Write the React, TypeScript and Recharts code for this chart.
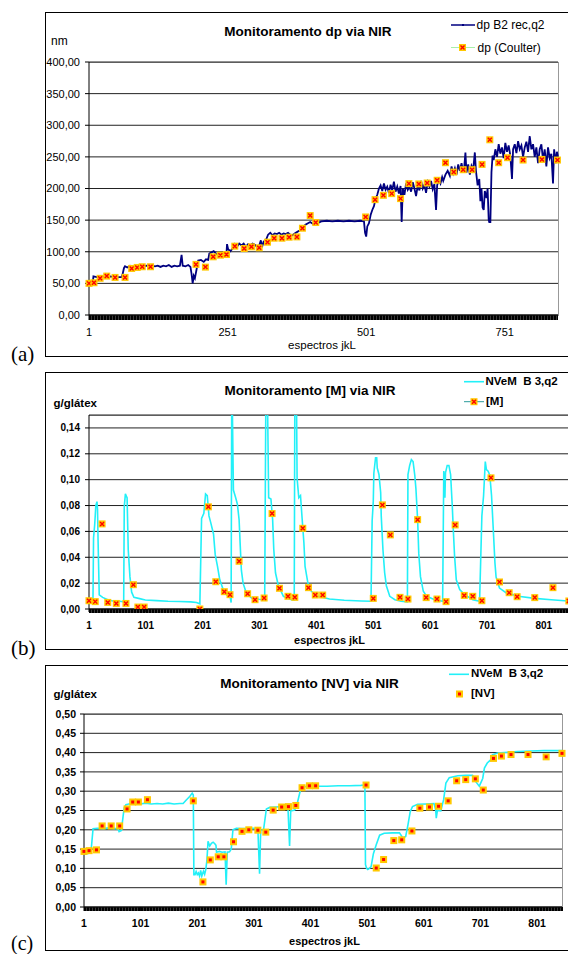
import React from 'react';
import { ComposedChart, Line, Scatter, XAxis, YAxis, CartesianGrid } from 'recharts';

const FONT = '"Liberation Sans", Arial, sans-serif';

type Pt = [number, number];

// (a) dp via NIR — [spectrum, nm]
const dpNir: Pt[] = [
  [1, 52], [5, 52], [8, 53], [9, 61], [15, 60], [20, 58], [25, 61], [30, 60], [35, 59], [40, 61], [45, 60], [50, 59],
  [55, 60], [60, 60], [62, 66], [64, 74], [66, 77], [70, 75], [75, 78], [80, 77], [85, 78], [90, 76], [95, 78], [100, 77],
  [105, 78], [110, 77], [115, 78], [120, 77], [125, 78], [130, 76], [135, 78], [140, 77], [145, 79], [150, 76], [155, 78],
  [160, 77], [165, 78], [168, 95], [170, 78], [175, 77], [180, 79], [184, 76], [186, 65], [188, 50], [190, 62], [192, 58],
  [195, 72], [198, 86], [203, 87], [208, 84], [212, 88], [216, 87], [218, 97], [222, 99], [226, 101], [230, 97], [234, 95],
  [238, 96], [242, 94], [246, 96], [249, 98], [250, 112], [252, 104], [256, 101], [260, 105], [264, 112], [268, 108],
  [272, 113], [276, 110], [280, 113], [284, 108], [288, 112], [292, 110], [296, 113], [300, 111], [304, 108], [308, 110],
  [311, 118], [313, 107], [316, 116], [320, 118], [324, 127], [328, 130], [332, 126], [336, 129], [340, 128], [344, 130],
  [348, 127], [352, 129], [356, 128], [360, 130], [364, 127], [368, 126], [372, 129], [376, 131], [380, 133], [384, 136],
  [388, 140], [392, 143], [396, 145], [400, 147], [405, 144], [410, 148], [415, 146], [420, 148], [430, 149], [440, 148],
  [450, 149], [460, 148], [470, 149], [480, 148], [490, 149], [497, 148], [499, 130], [501, 124], [503, 140], [506, 145],
  [509, 158], [512, 166], [515, 172], [518, 184], [521, 190], [524, 200], [527, 205], [530, 196], [533, 208], [536, 198],
  [539, 203], [542, 193], [545, 206], [548, 197], [551, 211], [554, 195], [557, 203], [560, 192], [563, 204], [565, 147],
  [567, 200], [570, 190], [573, 208], [576, 198], [579, 203], [582, 195], [585, 210], [588, 200], [591, 188], [594, 205],
  [597, 197], [600, 212], [603, 200], [606, 206], [609, 193], [612, 210], [615, 203], [618, 212], [621, 199], [624, 207],
  [627, 166], [629, 205], [632, 214], [635, 208], [638, 218], [640, 212], [644, 222], [648, 228], [652, 220], [655, 235],
  [658, 224], [661, 232], [664, 222], [667, 238], [670, 228], [673, 240], [676, 226], [678, 235], [680, 257], [682, 225],
  [685, 238], [688, 222], [691, 236], [694, 230], [697, 257], [699, 228], [702, 205], [705, 215], [707, 180], [709, 200],
  [711, 170], [713, 166], [715, 196], [718, 185], [720, 200], [722, 150], [723, 147], [725, 147], [727, 226], [729, 252],
  [731, 245], [734, 262], [737, 250], [740, 270], [743, 255], [746, 265], [749, 248], [752, 272], [755, 258], [758, 268],
  [761, 252], [764, 215], [766, 262], [769, 270], [772, 256], [775, 275], [778, 262], [781, 268], [784, 250], [787, 265],
  [790, 274], [793, 258], [796, 283], [799, 262], [802, 270], [805, 250], [808, 265], [811, 240], [814, 262], [817, 270],
  [820, 245], [823, 262], [826, 235], [829, 265], [832, 248], [835, 255], [838, 208], [840, 262], [843, 240], [845, 258],
  [847, 250],
];

const dpCoulter: Pt[] = [
  [1, 50], [10, 51], [21, 58], [33, 61.5], [48, 59.4], [66, 59.4], [78, 73.6], [88, 75.2], [97, 76.3], [112, 76.3],
  [194, 80], [211, 75.7], [225, 92], [238, 94.6], [249, 95.6], [264, 108.8], [281, 105.1], [294, 107.8], [308, 106.2],
  [323, 115.1], [335, 121.4], [349, 121.4], [362, 123], [376, 123.5], [386, 137.2], [400, 157.2], [410, 146.2],
  [500, 155], [517, 182.4], [532, 189.2], [547, 191.9], [563, 184], [578, 207.7], [596, 207.2], [611, 208.7], [629, 213],
  [644, 240.8], [659, 226], [676, 229.7], [692, 229.7], [710, 238.1], [724, 277], [740, 240.8], [756, 248.7], [784, 245],
  [818, 246], [846, 245],
];

// (b) [M] via NIR — [spectrum, g/glátex]
const mNir: Pt[] = [
  [1, 0.006], [5, 0.006], [8, 0.007], [9, 0.055], [11, 0.065], [13, 0.08], [15, 0.083], [16, 0.077], [17, 0.052],
  [19, 0.011], [25, 0.009], [35, 0.007], [45, 0.006], [55, 0.006], [62, 0.0055], [63, 0.079], [65, 0.089], [67, 0.087],
  [68, 0.086], [70, 0.046], [73, 0.025], [76, 0.013], [80, 0.009], [90, 0.008], [100, 0.007], [120, 0.0065], [140, 0.006],
  [160, 0.0058], [180, 0.0055], [190, 0.005], [196, 0.004], [199, 0.07], [203, 0.074], [206, 0.089], [209, 0.0877],
  [212, 0.072], [215, 0.067], [220, 0.058], [223, 0.042], [227, 0.033], [231, 0.0226], [237, 0.015], [243, 0.011],
  [249, 0.0098], [251, 0.005], [252, 0.16], [253, 0.16], [255, 0.092], [259, 0.086], [262, 0.081], [265, 0.069],
  [267, 0.049], [269, 0.03], [272, 0.02], [278, 0.012], [287, 0.0085], [300, 0.0075], [310, 0.007], [312, 0.16],
  [315, 0.16], [317, 0.086], [321, 0.085], [324, 0.069], [326, 0.046], [329, 0.028], [334, 0.018], [343, 0.0098],
  [357, 0.0072], [362, 0.007], [363, 0.16], [366, 0.16], [367, 0.101], [370, 0.086], [373, 0.0877], [376, 0.069],
  [379, 0.051], [381, 0.033], [386, 0.02], [392, 0.0137], [404, 0.0098], [424, 0.0077], [450, 0.0068], [480, 0.0062],
  [497, 0.006], [499, 0.068], [501, 0.083], [502, 0.105], [505, 0.117], [507, 0.117], [508, 0.109], [511, 0.104],
  [514, 0.09], [515, 0.072], [518, 0.046], [521, 0.028], [524, 0.018], [530, 0.0098], [539, 0.0072], [550, 0.006],
  [561, 0.0055], [562, 0.104], [565, 0.111], [568, 0.1155], [571, 0.114], [574, 0.1034], [576, 0.093], [579, 0.069],
  [581, 0.043], [584, 0.025], [589, 0.0137], [595, 0.0098], [609, 0.0072], [623, 0.006], [625, 0.1066], [627, 0.086],
  [628, 0.1053], [631, 0.111], [634, 0.111], [637, 0.104], [640, 0.079], [642, 0.059], [644, 0.041], [647, 0.0226],
  [653, 0.015], [662, 0.011], [676, 0.0072], [688, 0.006], [692, 0.072], [695, 0.0877], [698, 0.114], [700, 0.1077],
  [703, 0.1066], [706, 0.1034], [709, 0.0877], [712, 0.062], [715, 0.0356], [717, 0.0247], [723, 0.0162], [735, 0.0124],
  [756, 0.0098], [785, 0.0082], [814, 0.0072], [843, 0.0062], [847, 0.006],
];

const mLab: Pt[] = [
  [1, 0.0064], [12, 0.0057], [24, 0.0658], [34, 0.0051], [49, 0.0043], [66, 0.0043], [79, 0.0188], [87, 0.0015],
  [98, 0.0015], [196, 0.0], [211, 0.079], [224, 0.0211], [239, 0.0134], [249, 0.0111], [265, 0.0369], [280, 0.0118],
  [293, 0.0072], [309, 0.0085], [323, 0.0738], [336, 0.016], [351, 0.0098], [363, 0.009], [377, 0.0624], [387, 0.0165],
  [399, 0.0108], [412, 0.0108], [501, 0.0082], [517, 0.0805], [531, 0.0573], [548, 0.009], [562, 0.0077], [579, 0.0691],
  [594, 0.0088], [613, 0.0077], [629, 0.0057], [645, 0.065], [661, 0.0105], [676, 0.0098], [692, 0.0064], [708, 0.1014],
  [723, 0.0209], [740, 0.0126], [754, 0.0095], [785, 0.0088], [817, 0.0165], [845, 0.0062],
];

// (c) [NV] via NIR — [spectrum, g/glátex]
const nvNir: Pt[] = [
  [1, 0.137], [5, 0.138], [10, 0.139], [12, 0.146], [13, 0.138], [15, 0.17], [17, 0.203], [25, 0.204], [35, 0.203],
  [45, 0.205], [55, 0.203], [61, 0.203], [63, 0.195], [67, 0.198], [70, 0.235], [72, 0.257], [75, 0.265], [80, 0.267],
  [90, 0.268], [100, 0.267], [110, 0.269], [120, 0.267], [130, 0.268], [140, 0.267], [150, 0.269], [160, 0.267],
  [170, 0.268], [176, 0.268], [182, 0.278], [188, 0.287], [192, 0.295], [194, 0.29], [195, 0.084], [197, 0.084],
  [199, 0.092], [201, 0.084], [203, 0.088], [205, 0.08], [207, 0.095], [209, 0.08], [212, 0.093], [214, 0.085],
  [216, 0.097], [218, 0.12], [220, 0.17], [223, 0.158], [226, 0.165], [229, 0.168], [232, 0.164], [234, 0.16],
  [235, 0.142], [240, 0.144], [245, 0.142], [250, 0.143], [252, 0.058], [254, 0.142], [258, 0.143], [261, 0.15],
  [264, 0.2], [270, 0.204], [280, 0.203], [290, 0.203], [300, 0.204], [308, 0.202], [311, 0.086], [313, 0.199],
  [318, 0.2], [323, 0.254], [329, 0.258], [340, 0.259], [350, 0.26], [361, 0.261], [364, 0.158], [366, 0.249],
  [373, 0.251], [377, 0.265], [382, 0.296], [385, 0.311], [395, 0.312], [410, 0.313], [430, 0.313], [450, 0.314],
  [470, 0.314], [490, 0.315], [497, 0.316], [498, 0.11], [500, 0.1], [502, 0.097], [505, 0.1], [508, 0.105],
  [512, 0.138], [517, 0.161], [523, 0.186], [531, 0.191], [545, 0.192], [558, 0.192], [564, 0.179], [569, 0.183],
  [573, 0.213], [577, 0.247], [581, 0.26], [590, 0.266], [605, 0.267], [619, 0.268], [622, 0.251], [623, 0.23],
  [625, 0.25], [631, 0.249], [636, 0.278], [640, 0.321], [646, 0.335], [661, 0.34], [675, 0.341], [687, 0.341],
  [693, 0.324], [699, 0.313], [705, 0.333], [708, 0.36], [713, 0.373], [719, 0.381], [722, 0.394], [731, 0.399],
  [750, 0.401], [766, 0.403], [790, 0.404], [813, 0.405], [830, 0.405], [845, 0.405],
];

const nvLab: Pt[] = [
  [1, 0.144], [10, 0.146], [23, 0.148], [33, 0.21], [49, 0.21], [64, 0.21], [77, 0.254], [87, 0.272], [97, 0.272],
  [113, 0.278], [194, 0.275], [211, 0.065], [224, 0.122], [238, 0.13], [248, 0.13], [265, 0.169], [280, 0.196],
  [292, 0.2], [308, 0.199], [322, 0.194], [335, 0.251], [350, 0.259], [362, 0.26], [375, 0.263], [386, 0.309],
  [399, 0.314], [410, 0.314], [499, 0.316], [517, 0.101], [530, 0.123], [548, 0.172], [562, 0.174], [580, 0.197],
  [594, 0.256], [611, 0.259], [627, 0.261], [644, 0.275], [659, 0.327], [675, 0.33], [692, 0.332], [706, 0.303],
  [724, 0.385], [738, 0.391], [755, 0.395], [785, 0.395], [817, 0.389], [845, 0.398],
];

const xLabelsA = [1, 251, 501, 751];
const xLabelsBC = [1, 101, 201, 301, 401, 501, 601, 701, 801];
const yTicksA = [0, 50, 100, 150, 200, 250, 300, 350, 400];
const yTicksB = [0, 0.02, 0.04, 0.06, 0.08, 0.1, 0.12, 0.14];
const yTicksC = [0, 0.05, 0.1, 0.15, 0.2, 0.25, 0.3, 0.35, 0.4, 0.45, 0.5];

const rows = (pts: Pt[]) => pts.map(([x, y]) => ({ x, y }));
const comma = (v: number) => v.toFixed(2).replace('.', ',');

function XMark(props: any) {
  const { cx, cy } = props;
  if (cx == null || cy == null) return <g />;
  return (
    <g>
      <rect x={cx - 3.5} y={cy - 3.5} width={7} height={7} fill="#FFC800" />
      <path
        d={`M${cx - 2},${cy - 2}L${cx + 2},${cy + 2}M${cx + 2},${cy - 2}L${cx - 2},${cy + 2}`}
        stroke="#FF0000"
        strokeWidth={1.4}
      />
    </g>
  );
}

function DotMark(props: any) {
  const { cx, cy } = props;
  if (cx == null || cy == null) return <g />;
  return (
    <g>
      <rect x={cx - 3.5} y={cy - 3.5} width={7} height={7} fill="#FFC800" />
      <rect x={cx - 1.5} y={cy - 1.5} width={3} height={3} fill="#FF0000" />
    </g>
  );
}

interface PanelProps {
  top: number;
  width: number;
  marginTop: number;
  plotHeight: number;
  marginRight: number;
  yWidth: number;
  xMax: number;
  xLabels: number[];
  xTickSize: number;
  xTickMargin: number;
  yDomain: [number, number];
  yTicks: number[];
  yTickMargin: number;
  line: Pt[];
  lineColor: string;
  lineWidth: number;
  points: Pt[];
  marker: (p: any) => React.ReactElement;
  bold: boolean;
  fontSize: number;
}

function Panel(p: PanelProps) {
  const height = p.marginTop + p.plotHeight + 30 + 5;
  const tickStyle = { fontSize: p.fontSize, fill: '#000', fontFamily: FONT, fontWeight: p.bold ? 'bold' : 'normal' };
  return (
    <div style={{ position: 'absolute', left: 0, top: p.top }}>
      <ComposedChart
        width={p.width}
        height={height}
        margin={{ top: p.marginTop, right: p.marginRight, left: 0, bottom: 5 }}
      >
        <CartesianGrid vertical={false} stroke="#222" />
        <XAxis
          type="number"
          dataKey="x"
          domain={[1, p.xMax]}
          ticks={p.xLabels}
          interval={0}
          height={30}
          tickSize={p.xTickSize}
          tickMargin={p.xTickMargin}
          tickLine={{ stroke: '#000' }}
          axisLine={{ stroke: '#000' }}
          tick={tickStyle}
        />
        <YAxis
          type="number"
          dataKey="y"
          width={p.yWidth}
          domain={p.yDomain}
          ticks={p.yTicks}
          interval={0}
          allowDataOverflow
          tickSize={4}
          tickMargin={p.yTickMargin}
          tickLine={{ stroke: '#000' }}
          axisLine={{ stroke: '#000' }}
          tick={tickStyle}
          tickFormatter={comma}
        />
        <Line
          data={rows(p.line)}
          dataKey="y"
          type="linear"
          stroke={p.lineColor}
          strokeWidth={p.lineWidth}
          dot={false}
          activeDot={false}
          isAnimationActive={false}
        />
        <Scatter data={rows(p.points)} dataKey="y" shape={p.marker} isAnimationActive={false} />
      </ComposedChart>
    </div>
  );
}

function Txt(props: {
  x: number;
  y: number;
  size: number;
  bold?: boolean;
  center?: boolean;
  family?: string;
  children: React.ReactNode;
}) {
  return (
    <div
      style={{
        position: 'absolute',
        left: props.x,
        top: props.y,
        transform: props.center ? 'translate(-50%, -50%)' : 'translateY(-50%)',
        fontSize: props.size,
        fontWeight: props.bold ? 'bold' : 'normal',
        fontFamily: props.family ?? FONT,
        whiteSpace: 'pre',
        lineHeight: 1,
        color: '#000',
      }}
    >
      {props.children}
    </div>
  );
}

const box = (left: number, top: number, h: number): React.CSSProperties => ({
  position: 'absolute',
  left,
  top,
  width: 600,
  height: h,
  border: '1px solid #000',
  boxSizing: 'border-box',
});

const plotFrame = (left: number, top: number, w: number, h: number): React.CSSProperties => ({
  position: 'absolute',
  left,
  top,
  width: w,
  height: h,
  borderTop: '1px solid #999',
  borderRight: '1px solid #999',
  boxSizing: 'border-box',
});

// dense category tick marks of the original, shown as a band under the x axis
const tickBand = (left: number, top: number, w: number, h: number): React.CSSProperties => ({
  position: 'absolute',
  left,
  top,
  width: w,
  height: h,
  backgroundColor: '#000',
  backgroundImage: 'repeating-linear-gradient(90deg, #000 0px, #000 2px, #3a3a3a 2px, #3a3a3a 3px)',
});

const SERIF = '"Liberation Serif", "Times New Roman", serif';

export default function App() {
  return (
    <div
      style={{
        position: 'absolute',
        left: 0,
        top: 0,
        width: 568,
        height: 954,
        overflow: 'hidden',
        background: '#fff',
        fontFamily: FONT,
      }}
    >
      {/* frames */}
      <div style={box(45, 12, 345)} />
      <div style={box(45, 372, 278)} />
      <div style={box(45, 665, 286)} />
      <div style={plotFrame(89, 62, 470, 254)} />
      <div style={plotFrame(89, 415, 520, 195)} />
      <div style={plotFrame(84, 714, 479, 194)} />
      <div style={tickBand(89, 315, 469, 5)} />
      <div style={tickBand(89, 609, 481, 4)} />
      <div style={tickBand(84, 907, 479, 4)} />

      {/* (a) */}
      <Panel
        top={0}
        width={568}
        marginTop={62}
        plotHeight={253}
        marginRight={10}
        yWidth={89}
        xMax={847}
        xLabels={xLabelsA}
        xTickSize={5}
        xTickMargin={8}
        yDomain={[0, 400]}
        yTicks={yTicksA}
        yTickMargin={5}
        line={dpNir}
        lineColor="#000080"
        lineWidth={1.8}
        points={dpCoulter}
        marker={XMark}
        bold={false}
        fontSize={11}
      />
      {/* (b) */}
      <Panel
        top={372}
        width={600}
        marginTop={43}
        plotHeight={194}
        marginRight={30}
        yWidth={89}
        xMax={847}
        xLabels={xLabelsBC}
        xTickSize={3}
        xTickMargin={10}
        yDomain={[0, 0.15]}
        yTicks={yTicksB}
        yTickMargin={5}
        line={mNir}
        lineColor="#22F0F8"
        lineWidth={1.6}
        points={mLab}
        marker={XMark}
        bold
        fontSize={10}
      />
      {/* (c) */}
      <Panel
        top={665}
        width={568}
        marginTop={49}
        plotHeight={193}
        marginRight={6}
        yWidth={84}
        xMax={845}
        xLabels={xLabelsBC}
        xTickSize={4}
        xTickMargin={9}
        yDomain={[0, 0.5]}
        yTicks={yTicksC}
        yTickMargin={4}
        line={nvNir}
        lineColor="#22F0F8"
        lineWidth={1.6}
        points={nvLab}
        marker={DotMark}
        bold
        fontSize={10.5}
      />

      {/* texts (a) */}
      <Txt x={308} y={32} size={13.5} bold center>Monitoramento dp via NIR</Txt>
      <Txt x={51} y={41} size={12}>nm</Txt>
      <Txt x={322} y={346} size={11.5} center>espectros jkL</Txt>
      <svg style={{ position: 'absolute', left: 448, top: 18 }} width={30} height={36}>
        <line x1={3} y1={7} x2={27} y2={7} stroke="#000080" strokeWidth={1.5} />
        <rect x={14} y={6} width={2} height={2} fill="#000080" />
        <line x1={3} y1={29.5} x2={27} y2={29.5} stroke="#A8F0A8" strokeWidth={1} />
        <rect x={11} y={26} width={7} height={7} fill="#FFC800" />
        <path d="M12.5,27.5L16.5,31.5M16.5,27.5L12.5,31.5" stroke="#FF0000" strokeWidth={1.4} />
      </svg>
      <Txt x={476.5} y={25} size={12}>dp B2 rec,q2</Txt>
      <Txt x={477.5} y={47.5} size={12}>dp (Coulter)</Txt>
      <Txt x={11} y={354} size={21} family={SERIF}>(a)</Txt>

      {/* texts (b) */}
      <Txt x={310} y={390.5} size={13.5} bold center>Monitoramento [M] via NIR</Txt>
      <Txt x={53.5} y={404} size={11.5} bold>g/glátex</Txt>
      <Txt x={329.5} y={639.5} size={11} bold center>espectros jkL</Txt>
      <svg style={{ position: 'absolute', left: 462, top: 375 }} width={24} height={34}>
        <line x1={2} y1={6.7} x2={22} y2={6.7} stroke="#22F0F8" strokeWidth={1.6} />
        <line x1={2} y1={26.7} x2={22} y2={26.7} stroke="#2A9A9A" strokeWidth={1} />
        <rect x={8.5} y={23.2} width={7} height={7} fill="#FFC800" />
        <path d="M10,24.7L14,28.7M14,24.7L10,28.7" stroke="#FF0000" strokeWidth={1.4} />
      </svg>
      <Txt x={485.5} y={381.7} size={11.5} bold>NVeM  B 3,q2</Txt>
      <Txt x={486} y={401.7} size={11.5} bold>[M]</Txt>
      <Txt x={11} y={648} size={21} family={SERIF}>(b)</Txt>

      {/* texts (c) */}
      <Txt x={309.5} y={683.5} size={13.5} bold center>Monitoramento [NV] via NIR</Txt>
      <Txt x={53.5} y={695} size={11.5} bold>g/glátex</Txt>
      <Txt x={324.5} y={941} size={11} bold center>espectros jkL</Txt>
      <svg style={{ position: 'absolute', left: 447, top: 668 }} width={24} height={34}>
        <line x1={2} y1={6.3} x2={22} y2={6.3} stroke="#22F0F8" strokeWidth={1.6} />
        <rect x={9} y={22.5} width={7} height={7} fill="#FFC800" />
        <rect x={11} y={24.5} width={3} height={3} fill="#FF0000" />
      </svg>
      <Txt x={471} y={674.3} size={11.5} bold>NVeM  B 3,q2</Txt>
      <Txt x={471} y={694} size={11.5} bold>[NV]</Txt>
      <Txt x={11} y={943} size={20} family={SERIF}>(c)</Txt>
    </div>
  );
}
